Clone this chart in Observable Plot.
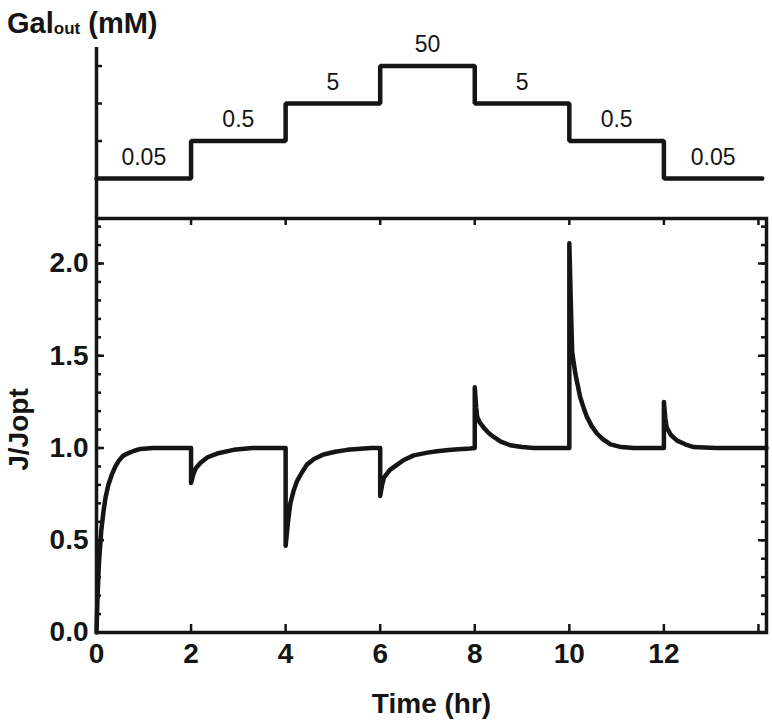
<!DOCTYPE html>
<html><head><meta charset="utf-8">
<script src="https://cdn.jsdelivr.net/npm/d3@7"></script>
<script src="https://cdn.jsdelivr.net/npm/@observablehq/plot@0.6"></script>
<style>
html,body{margin:0;padding:0;background:#fff;overflow:hidden}
#wrap{position:relative;width:772px;height:724px}
#wrap svg{position:absolute;left:0;top:0}
#title{position:absolute;left:7px;top:6px;font:bold 29px "Liberation Sans",Arial,Helvetica,sans-serif;line-height:34px;color:#151515;white-space:nowrap}
#title sub{font-size:17px;vertical-align:baseline;position:relative;top:1px}
</style></head><body>
<div id="wrap"><div id="title">Gal<sub>out</sub> (mM)</div></div>
<script>
const FONT = '"Liberation Sans", Arial, Helvetica, sans-serif';
const INK = "#151515";

// --- Top panel: external galactose steps (mM) ---
const stepStart = [0, 2, 4, 6, 8, 10, 12];
const stepEnd   = [2, 4, 6, 8, 10, 12, 14.08];
const galLevels = [0.05, 0.5, 5, 50, 5, 0.5, 0.05];
const galLabels = ["0.05", "0.5", "5", "50", "5", "0.5", "0.05"];
const galTicks  = [0.05, 0.5, 5, 50];

// --- Bottom panel: J/Jopt response over time (hr) ---
const timeHr = [
  0, 0.02, 0.05, 0.1, 0.15, 0.19, 0.25, 0.33, 0.4, 0.47, 0.55, 0.65, 0.8, 0.93, 1.2, 2.0,
  2.0, 2.05, 2.1, 2.2, 2.35, 2.55, 2.9, 3.3, 4.0,
  4.0, 4.05, 4.1, 4.17, 4.24, 4.35, 4.45, 4.6, 4.8, 5.05, 5.3, 5.8, 6.0,
  6.0, 6.04, 6.08, 6.2, 6.36, 6.5, 6.71, 7.0, 7.2, 7.5, 7.9, 8.0,
  8.0, 8.03, 8.05, 8.1, 8.19, 8.3, 8.4, 8.55, 8.75, 9.0, 9.25, 10.0,
  10.0, 10.03, 10.06, 10.13, 10.23, 10.3, 10.37, 10.47, 10.58, 10.7, 10.87, 11.1, 11.36, 12.0,
  12.0, 12.03, 12.06, 12.15, 12.28, 12.45, 12.63, 13.1, 14.17
];
const jRatio = [
  0, 0.18, 0.37, 0.55, 0.66, 0.73, 0.8, 0.86, 0.9, 0.93, 0.955, 0.97, 0.985, 0.995, 1.0, 1.0,
  0.81, 0.86, 0.89, 0.92, 0.95, 0.97, 0.99, 1.0, 1.0,
  0.47, 0.6, 0.7, 0.77, 0.82, 0.87, 0.91, 0.94, 0.965, 0.98, 0.99, 1.0, 1.0,
  0.74, 0.8, 0.84, 0.88, 0.91, 0.935, 0.96, 0.975, 0.982, 0.99, 0.997, 1.0,
  1.33, 1.22, 1.17, 1.14, 1.11, 1.08, 1.06, 1.035, 1.015, 1.005, 1.0, 1.0,
  2.11, 1.8, 1.52, 1.4, 1.275, 1.22, 1.17, 1.12, 1.08, 1.05, 1.02, 1.005, 1.0, 1.0,
  1.25, 1.16, 1.11, 1.07, 1.04, 1.02, 1.005, 1.0, 1.0
];

const yMajor = [0, 0.5, 1.0, 1.5, 2.0];
const yMinor = d3.range(0, 23).map(i => i / 10);
const xTicks = [0, 2, 4, 6, 8, 10, 12, 14];
const xLabels = [0, 2, 4, 6, 8, 10, 12];

const xDomain = [0, 14.17];
const W = 772;
const mL = 96, mR = 6;
const plotW = W - mL - mR;

const stepPts = stepStart.map((s, i) => ({t: s, g: galLevels[i]}))
  .concat([{t: stepEnd[stepEnd.length - 1], g: galLevels[galLevels.length - 1]}]);
const curve = timeHr.map((t, i) => ({t, j: jRatio[i]}));

const bTop = 218, bBottom = 92, H = 724;
const plotH = H - bTop - bBottom;

const bottomPlot = Plot.plot({
  width: W, height: H,
  marginLeft: mL, marginRight: mR, marginTop: bTop, marginBottom: bBottom,
  x: {domain: xDomain},
  y: {domain: [0, 2.244]},
  style: {background: "transparent", fontFamily: FONT, color: INK},
  marks: [
    Plot.ruleY(yMinor, {insetRight: plotW - 5, stroke: INK, strokeWidth: 2.5}),
    Plot.ruleY(yMinor, {insetLeft: plotW - 5, stroke: INK, strokeWidth: 2.5}),
    Plot.ruleY(yMajor, {insetRight: plotW - 8, stroke: INK, strokeWidth: 2.5}),
    Plot.ruleY(yMajor, {insetLeft: plotW - 8, stroke: INK, strokeWidth: 2.5}),
    Plot.ruleX(xTicks, {insetTop: plotH - 8, stroke: INK, strokeWidth: 2.5}),
    Plot.ruleX(xTicks, {insetBottom: plotH - 7, stroke: INK, strokeWidth: 2.5}),
    Plot.line(curve, {x: "t", y: "j", stroke: INK, strokeWidth: 4.5, strokeLinejoin: "round"}),
    Plot.frame({stroke: INK, strokeWidth: 3.5}),
    Plot.axisY(yMajor, {tickSize: 0, tickPadding: 8, tickFormat: d3.format(".1f"), fontSize: 28, fontWeight: "bold", label: null}),
    Plot.axisX(xLabels, {tickSize: 0, tickPadding: 11, fontSize: 28, fontWeight: "bold", label: null}),
    Plot.text(["Time (hr)"], {text: d => d, frameAnchor: "bottom", dy: 80, fontSize: 28, fontWeight: "bold", fill: INK}),
    Plot.text(["J/Jopt"], {text: d => d, frameAnchor: "left", textAnchor: "middle", rotate: -90, dx: -77, dy: 4, fontSize: 28, fontWeight: "bold", fill: INK})
  ]
});

const topPlot = Plot.plot({
  width: W, height: 220,
  marginLeft: mL, marginRight: mR, marginTop: 47, marginBottom: 2,
  x: {domain: xDomain, axis: null},
  y: {type: "log", domain: [0.0043, 156], axis: null},
  style: {background: "transparent", fontFamily: FONT, color: INK},
  marks: [
    Plot.ruleX([0], {stroke: INK, strokeWidth: 3.5}),
    Plot.ruleY(galTicks, {insetRight: plotW - 6, stroke: INK, strokeWidth: 2.5}),
    Plot.line(stepPts, {x: "t", y: "g", curve: "step-after", stroke: INK, strokeWidth: 4.5, strokeLinejoin: "miter"}),
    Plot.text(galLevels, {
      x: (d, i) => (stepStart[i] + stepEnd[i]) / 2,
      y: d => d,
      text: (d, i) => galLabels[i],
      lineAnchor: "bottom", dy: -14, fontSize: 23, fill: INK
    })
  ]
});

const wrap = document.getElementById("wrap");
wrap.appendChild(bottomPlot);
wrap.appendChild(topPlot);
</script>
</body></html>
